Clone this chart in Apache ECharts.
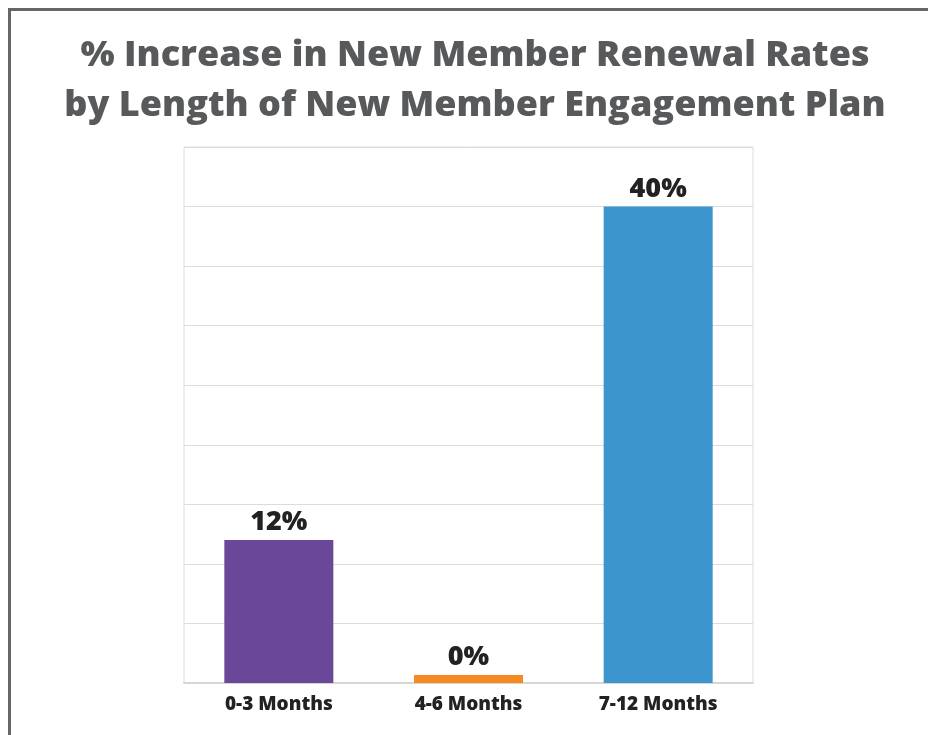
<!DOCTYPE html>
<html>
<head>
<meta charset="utf-8">
<script src="https://cdn.jsdelivr.net/npm/echarts@6/dist/echarts.min.js"></script>
<style>
  html, body { margin: 0; padding: 0; background: #fff; }
  #chart { width: 928px; height: 735px; }
</style>
</head>
<body>
<div id="chart"></div>
<script>
// chart data
const categories = ['0-3 Months', '4-6 Months', '7-12 Months']
const values = [12, 0, 40]
const barColors = ['#6a4799', '#f58a20', '#3d95ce']

const chart = echarts.init(document.getElementById('chart'))

const option = {
  backgroundColor: '#fff',
  animation: false,
  title: {
    text: '% Increase in New Member Renewal Rates\nby Length of New Member Engagement Plan',
    left: 470,
    textAlign: 'center',
    top: 26,
    textStyle: {
      fontFamily: 'Open Sans',
      fontWeight: 800,
      fontSize: 36,
      lineHeight: 50,
      color: '#58595b'
    }
  },
  // outer frame
  graphic: [
    {
      type: 'rect',
      shape: { x: 9.5, y: 9.5, width: 940, height: 760 },
      style: { fill: 'none', stroke: '#666', lineWidth: 3 },
      silent: true
    }
  ],
  grid: {
    left: 184,
    right: 175,
    top: 147,
    bottom: 52,
    show: true,
    borderColor: '#dcdcdc',
    borderWidth: 1
  },
  xAxis: {
    type: 'category',
    data: categories,
    axisLine: { lineStyle: { color: '#d6d6d6', width: 2 } },
    axisTick: { show: false },
    axisLabel: {
      margin: 12,
      fontFamily: 'Open Sans',
      fontWeight: 800,
      fontSize: 19,
      color: '#222'
    }
  },
  yAxis: {
    type: 'value',
    min: 0,
    max: 45,
    interval: 5,
    axisLabel: { show: false },
    axisLine: { show: false },
    axisTick: { show: false },
    splitLine: { lineStyle: { color: '#dcdcdc', width: 1 } }
  },
  series: [
    {
      type: 'bar',
      data: values.map((v, i) => ({ value: v, itemStyle: { color: barColors[i] } })),
      barWidth: 109,
      barMinHeight: 8,
      label: {
        show: true,
        position: 'top',
        distance: 4,
        formatter: '{c}%',
        fontFamily: 'Open Sans',
        fontWeight: 800,
        fontSize: 27,
        color: '#222'
      }
    }
  ]
}

chart.setOption(option)
</script>
</body>
</html>
